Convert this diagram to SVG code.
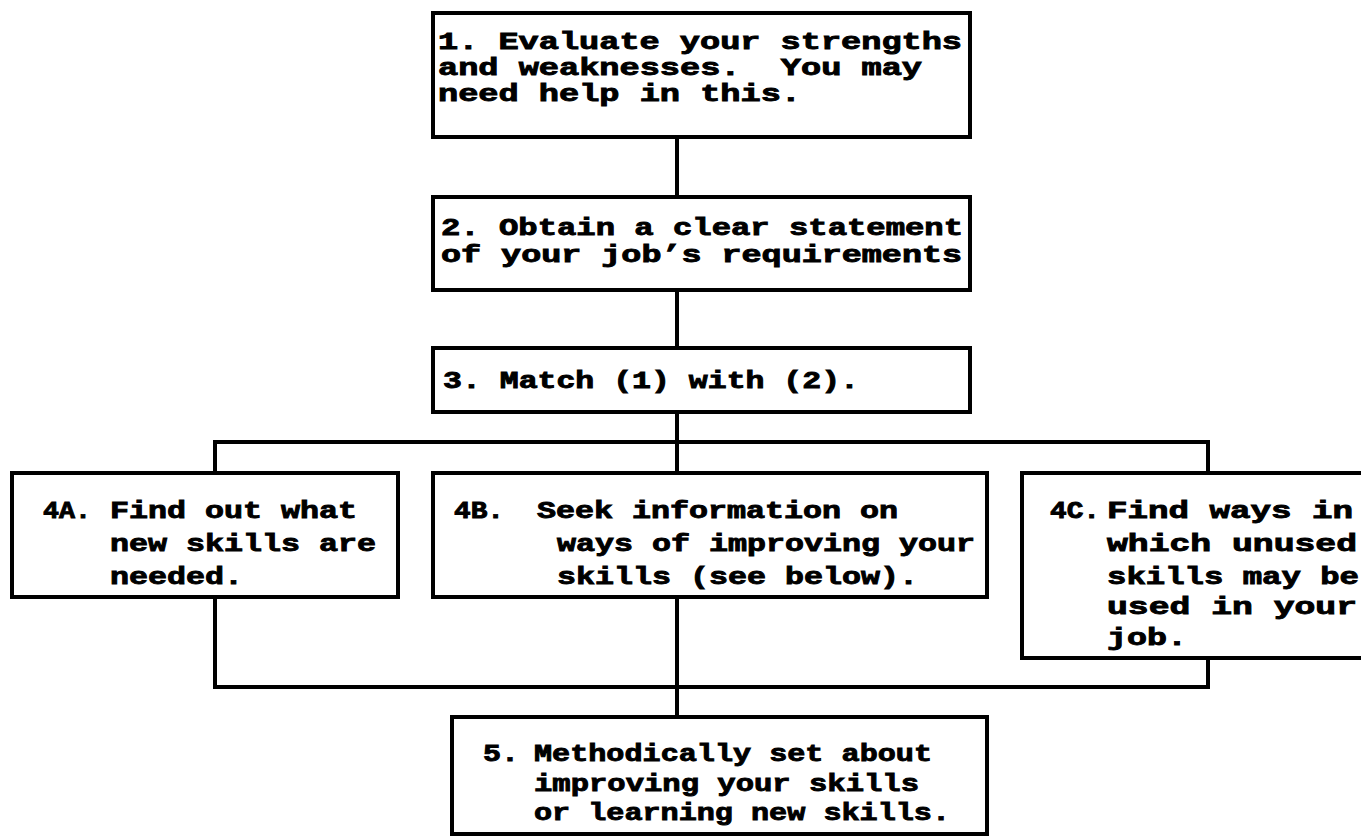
<svg xmlns="http://www.w3.org/2000/svg" width="1361" height="838" viewBox="0 0 1361 838">
<style>
.box{fill:#fff;stroke:#000;stroke-width:4}
.ln{fill:none;stroke:#000;stroke-width:4}
.t{font-family:"Liberation Mono","Courier New",monospace;font-weight:bold;font-size:24px;fill:#000;stroke:#000;stroke-width:0.9}
</style>
<rect width="1361" height="838" fill="#fff"/>
<g id="connectors">
<path class="ln" d="M677 137V197M677 290V348M677 412V473M215 473V442H1208V473"/>
<path class="ln" d="M215 597V687H1208V658M677 597V717"/>
</g>
<g id="n1">
<rect class="box" x="433" y="13" width="537" height="124"/>
<text class="t" x="438" y="49" textLength="524" lengthAdjust="spacingAndGlyphs">1. Evaluate your strengths</text>
<text class="t" x="438" y="75" textLength="484" lengthAdjust="spacingAndGlyphs" xml:space="preserve">and weaknesses.  You may</text>
<text class="t" x="438" y="101" textLength="363" lengthAdjust="spacingAndGlyphs">need help in this.</text>
</g>
<g id="n2">
<rect class="box" x="433" y="197" width="537" height="93"/>
<text class="t" x="441" y="235" textLength="522" lengthAdjust="spacingAndGlyphs">2. Obtain a clear statement</text>
<text class="t" x="441" y="262" textLength="521" lengthAdjust="spacingAndGlyphs">of your job’s requirements</text>
</g>
<g id="n3">
<rect class="box" x="433" y="348" width="537" height="64"/>
<text class="t" x="443" y="388" textLength="416" lengthAdjust="spacingAndGlyphs">3. Match (1) with (2).</text>
</g>
<g id="n4a">
<rect class="box" x="12" y="473" width="386" height="124"/>
<text class="t" x="43" y="518" textLength="48" lengthAdjust="spacingAndGlyphs">4A.</text>
<text class="t" x="110" y="518" textLength="247" lengthAdjust="spacingAndGlyphs">Find out what</text>
<text class="t" x="110" y="551" textLength="266" lengthAdjust="spacingAndGlyphs">new skills are</text>
<text class="t" x="110" y="584" textLength="133" lengthAdjust="spacingAndGlyphs">needed.</text>
</g>
<g id="n4b">
<rect class="box" x="433" y="473" width="554" height="124"/>
<text class="t" x="454" y="518" textLength="50" lengthAdjust="spacingAndGlyphs">4B.</text>
<text class="t" x="537" y="518" textLength="361" lengthAdjust="spacingAndGlyphs">Seek information on</text>
<text class="t" x="557" y="551" textLength="418" lengthAdjust="spacingAndGlyphs">ways of improving your</text>
<text class="t" x="557" y="584" textLength="361" lengthAdjust="spacingAndGlyphs">skills (see below).</text>
</g>
<g id="n4c">
<path class="ln" d="M1370 473H1022V658H1370"/>
<text class="t" x="1050" y="518" textLength="50" lengthAdjust="spacingAndGlyphs">4C.</text>
<text class="t" x="1107" y="518" textLength="246" lengthAdjust="spacingAndGlyphs">Find ways in</text>
<text class="t" x="1107" y="551" textLength="250" lengthAdjust="spacingAndGlyphs">which unused</text>
<text class="t" x="1107" y="584" textLength="252" lengthAdjust="spacingAndGlyphs">skills may be</text>
<text class="t" x="1107" y="614" textLength="250" lengthAdjust="spacingAndGlyphs">used in your</text>
<text class="t" x="1107" y="645" textLength="80" lengthAdjust="spacingAndGlyphs">job.</text>
</g>
<g id="n5">
<rect class="box" x="452" y="717" width="535" height="117"/>
<text class="t" x="483" y="761" textLength="36" lengthAdjust="spacingAndGlyphs">5.</text>
<text class="t" x="534" y="761" textLength="398" lengthAdjust="spacingAndGlyphs">Methodically set about</text>
<text class="t" x="534" y="791" textLength="385" lengthAdjust="spacingAndGlyphs">improving your skills</text>
<text class="t" x="534" y="820" textLength="416" lengthAdjust="spacingAndGlyphs">or learning new skills.</text>
</g>
</svg>
